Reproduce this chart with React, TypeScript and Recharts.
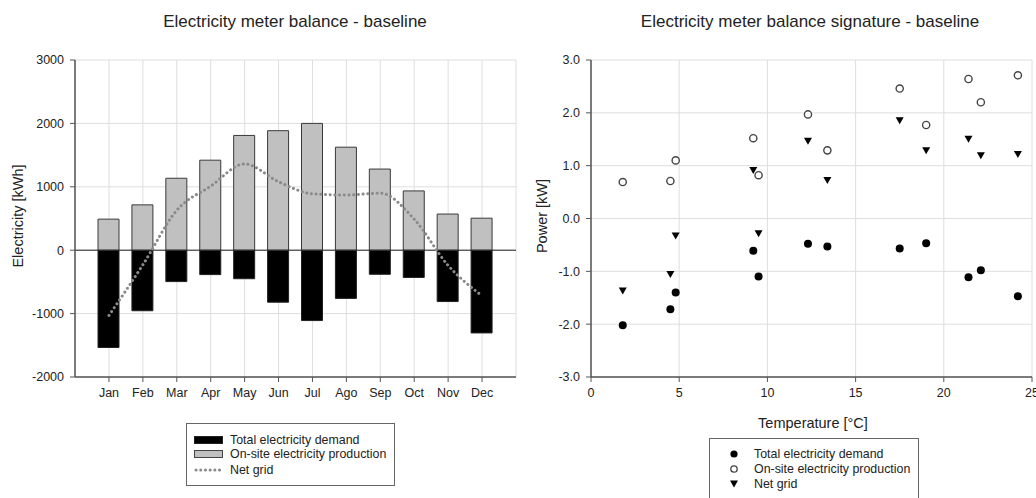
import React from 'react';
import {
  ComposedChart, Bar, Line, XAxis, YAxis, CartesianGrid, ReferenceLine,
  ScatterChart, Scatter,
} from 'recharts';

// ---- Monthly balance (left chart) ----
const months = ['Jan', 'Feb', 'Mar', 'Apr', 'May', 'Jun', 'Jul', 'Ago', 'Sep', 'Oct', 'Nov', 'Dec'];
const totalDemand = [-1535, -955, -495, -385, -450, -820, -1110, -760, -380, -430, -810, -1305];
const onsiteProduction = [490, 715, 1135, 1420, 1810, 1885, 2000, 1625, 1280, 935, 570, 505];
const netGrid = [-1030, -230, 630, 1010, 1360, 1080, 890, 870, 900, 490, -240, -720];
const leftYTicks = [-2000, -1000, 0, 1000, 2000, 3000];

// ---- Signature (right chart) ----
const temperature = [1.8, 4.5, 4.8, 9.2, 9.5, 12.3, 13.4, 17.5, 19.0, 21.4, 22.1, 24.2];
const demandKW = [-2.02, -1.72, -1.40, -0.61, -1.10, -0.48, -0.53, -0.57, -0.47, -1.11, -0.98, -1.47];
const productionKW = [0.69, 0.71, 1.10, 1.52, 0.82, 1.97, 1.29, 2.46, 1.77, 2.64, 2.20, 2.71];
const netKW = [-1.37, -1.06, -0.33, 0.91, -0.29, 1.46, 0.72, 1.85, 1.28, 1.50, 1.19, 1.21];
const rightXTicks = [0, 5, 10, 15, 20, 25];
const rightYTicks = [-3, -2, -1, 0, 1, 2, 3];

const barData = months.map((m, i) => ({
  month: m,
  demand: totalDemand[i],
  production: onsiteProduction[i],
  net: netGrid[i],
}));
const demandPts = temperature.map((t, i) => ({ x: t, y: demandKW[i] }));
const productionPts = temperature.map((t, i) => ({ x: t, y: productionKW[i] }));
const netPts = temperature.map((t, i) => ({ x: t, y: netKW[i] }));

const FONT = '"Liberation Sans", Arial, Helvetica, sans-serif';
const TXT = '#222';
const AX = '#555';
const GRID = '#dedede';
const tickStyle = { fontSize: 12.5, fill: TXT, fontFamily: FONT };

const FilledDot = (p: any) => <circle cx={p.cx} cy={p.cy} r={4} fill="#000" />;
const OpenDot = (p: any) => (
  <circle cx={p.cx} cy={p.cy} r={3.6} fill="#fff" stroke="#444" strokeWidth={1.4} />
);
const DownTri = (p: any) => (
  <path d={`M${p.cx - 4},${p.cy - 3.5} L${p.cx + 4},${p.cy - 3.5} L${p.cx},${p.cy + 3.5} Z`} fill="#000" />
);

const abs = (x: number, y: number, extra: any = {}) => ({
  position: 'absolute' as const, left: x, top: y, whiteSpace: 'nowrap' as const, ...extra,
});

export default function App() {
  return (
    <div style={{ position: 'absolute', left: 0, top: 0, width: 1036, height: 498, overflow: 'hidden', background: '#fff', fontFamily: FONT, color: TXT }}>
      {/* Titles */}
      <div style={abs(295, 22, { transform: 'translate(-50%,-50%)', fontSize: 17 })}>Electricity meter balance - baseline</div>
      <div style={abs(810, 22, { transform: 'translate(-50%,-50%)', fontSize: 17 })}>Electricity meter balance signature - baseline</div>

      {/* Left chart */}
      <div style={abs(0, 0)}>
        <ComposedChart width={520} height={400} data={barData} stackOffset="sign"
          margin={{ top: 60, right: 4, bottom: 0, left: 0 }}>
          <CartesianGrid stroke={GRID} />
          <XAxis dataKey="month" height={23} padding={{ left: 17, right: 17 }}
            axisLine={{ stroke: AX, strokeWidth: 1.5 }} tickLine={{ stroke: AX }} tickSize={5} tickMargin={6}
            tick={tickStyle} interval={0} />
          <YAxis width={75} domain={[-2000, 3000]} ticks={leftYTicks} type="number"
            axisLine={{ stroke: AX, strokeWidth: 1.5 }} tickLine={{ stroke: AX }} tickSize={5} tickMargin={6}
            tick={tickStyle} />
          <ReferenceLine y={0} stroke="#222" strokeWidth={1} />
          <Bar dataKey="demand" stackId="a" fill="#000" stroke="#222" strokeWidth={1} barSize={21} isAnimationActive={false} />
          <Bar dataKey="production" stackId="a" fill="#c0c0c0" stroke="#3a3a3a" strokeWidth={1} barSize={21} isAnimationActive={false} />
          <Line dataKey="net" type="monotone" stroke="#8a8a8a" strokeWidth={3} strokeDasharray="0.1 4.6"
            strokeLinecap="round" dot={false} activeDot={false} isAnimationActive={false} />
        </ComposedChart>
      </div>
      <div style={abs(18, 216, { transform: 'translate(-50%,-50%) rotate(-90deg)', fontSize: 14.5 })}>Electricity [kWh]</div>

      {/* Left legend */}
      <div style={abs(186, 423, { width: 209, height: 63, border: '1px solid #666', boxSizing: 'border-box' })}>
        <div style={abs(7, 12, { width: 29, height: 8, background: '#000', border: '1px solid #222', boxSizing: 'border-box' })} />
        <div style={abs(43, 16, { transform: 'translateY(-50%)', fontSize: 12.4 })}>Total electricity demand</div>
        <div style={abs(7, 26, { width: 29, height: 8, background: '#c0c0c0', border: '1px solid #444', boxSizing: 'border-box' })} />
        <div style={abs(43, 30, { transform: 'translateY(-50%)', fontSize: 12.4 })}>On-site electricity production</div>
        <svg style={abs(7, 42)} width={30} height={8}>
          <line x1={2} y1={4} x2={29} y2={4} stroke="#8a8a8a" strokeWidth={3} strokeDasharray="0.1 4.6" strokeLinecap="round" />
        </svg>
        <div style={abs(43, 46, { transform: 'translateY(-50%)', fontSize: 12.4 })}>Net grid</div>
      </div>

      {/* Right chart */}
      <div style={abs(520, 0)}>
        <ScatterChart width={516} height={400} margin={{ top: 60, right: 4, bottom: 0, left: 0 }}>
          <CartesianGrid stroke={GRID} />
          <XAxis dataKey="x" type="number" domain={[0, 25]} ticks={rightXTicks} height={23}
            axisLine={{ stroke: AX, strokeWidth: 1.5 }} tickLine={{ stroke: AX }} tickSize={5} tickMargin={6}
            tick={tickStyle} interval={0} />
          <YAxis dataKey="y" type="number" width={71} domain={[-3, 3]} ticks={rightYTicks}
            tickFormatter={(v: number) => v.toFixed(1)}
            axisLine={{ stroke: AX, strokeWidth: 1.5 }} tickLine={{ stroke: AX }} tickSize={5} tickMargin={6}
            tick={tickStyle} interval={0} />
          <Scatter data={demandPts} shape={FilledDot} isAnimationActive={false} />
          <Scatter data={productionPts} shape={OpenDot} isAnimationActive={false} />
          <Scatter data={netPts} shape={DownTri} isAnimationActive={false} />
        </ScatterChart>
      </div>
      <div style={abs(542, 216, { transform: 'translate(-50%,-50%) rotate(-90deg)', fontSize: 14.5 })}>Power [kW]</div>
      <div style={abs(813, 423, { transform: 'translate(-50%,-50%)', fontSize: 14.5 })}>Temperature [°C]</div>

      {/* Right legend */}
      <div style={abs(709, 438, { width: 210, height: 80, border: '1px solid #666', boxSizing: 'border-box' })}>
        <svg style={abs(17, 8)} width={14} height={45}>
          <circle cx={7} cy={7} r={3.6} fill="#000" />
          <circle cx={7} cy={22} r={3.2} fill="#fff" stroke="#444" strokeWidth={1.3} />
          <path d="M3,33.5 L11,33.5 L7,40.5 Z" fill="#000" />
        </svg>
        <div style={abs(44, 15, { transform: 'translateY(-50%)', fontSize: 12.4 })}>Total electricity demand</div>
        <div style={abs(44, 30, { transform: 'translateY(-50%)', fontSize: 12.4 })}>On-site electricity production</div>
        <div style={abs(44, 45, { transform: 'translateY(-50%)', fontSize: 12.4 })}>Net grid</div>
      </div>
    </div>
  );
}
